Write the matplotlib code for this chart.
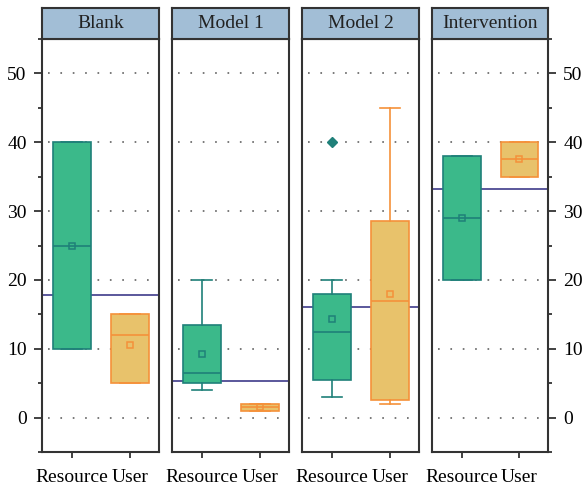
import matplotlib
matplotlib.use("Agg")
import matplotlib.pyplot as plt
from matplotlib.ticker import MultipleLocator

plt.rcParams['font.family'] = ['Liberation Serif', 'DejaVu Serif']

groups = ["Blank", "Model 1", "Model 2", "Intervention"]
categories = ["Resource", "User"]

# five-number summaries per group: [Resource, User]
whislo = [[10, 5], [4, 1], [3, 2], [20, 35]]
q1 = [[10, 5], [5, 1], [5.5, 2.5], [20, 35]]
med = [[25, 12], [6.5, 1.5], [12.5, 17], [29, 37.5]]
q3 = [[40, 15], [13.5, 2], [18, 28.5], [38, 40]]
whishi = [[40, 15], [20, 2], [20, 45], [38, 40]]
means = [[25, 10.6], [9.2, 1.5], [14.3, 18], [29, 37.5]]
outliers = [[[], []], [[], []], [[40], []], [[], []]]

# overall reference level per group
ref_level = [17.8, 5.35, 16.1, 33.2]

W, H = 582, 487
fig = plt.figure(figsize=(W / 100, H / 100), dpi=100)

panel_x = [(42, 159), (172, 289), (302, 419), (432, 548)]
y_top, y_bot, strip_top = 39, 452, 8

fills = ["#3BB98A", "#E8C26B"]
edges = ["#1F8079", "#F5913A"]
frame = "#333333"
fs = 14

for g, name in enumerate(groups):
    x0, x1 = panel_x[g]
    ax = fig.add_axes([x0 / W, 1 - y_bot / H, (x1 - x0) / W, (y_bot - y_top) / H])
    ax.set_xlim(0.48, 2.5)
    ax.set_ylim(-5, 55)

    for yv in range(0, 51, 10):
        ax.plot([0.58, 2.45], [yv, yv], color="#555555", lw=1.1,
                linestyle=(0, (1.1, 7.0)), zorder=0)

    ax.axhline(ref_level[g], color="#2E2A80", lw=1.1, zorder=1)

    for c in range(2):
        stats = [dict(whislo=whislo[g][c], q1=q1[g][c], med=med[g][c],
                      q3=q3[g][c], whishi=whishi[g][c], mean=means[g][c],
                      fliers=outliers[g][c])]
        ax.bxp(stats, positions=[c + 1], widths=0.65, patch_artist=True,
               showmeans=True, showfliers=True, capwidths=0.34,
               boxprops=dict(facecolor=fills[c], edgecolor=edges[c], lw=1.2),
               medianprops=dict(color=edges[c], lw=1.2),
               whiskerprops=dict(color=edges[c], lw=1.2),
               capprops=dict(color=edges[c], lw=1.2),
               meanprops=dict(marker="s", markerfacecolor="none",
                              markeredgecolor=edges[c], markersize=5,
                              markeredgewidth=1.1),
               flierprops=dict(marker="D", markerfacecolor=edges[c],
                               markeredgecolor=edges[c], markersize=5),
               manage_ticks=False, zorder=2)

    ax.set_xticks([1, 2])
    ax.set_xticklabels(categories, fontsize=fs)
    ax.tick_params(axis="x", length=4.5, width=1.3, color=frame, pad=8)

    ax.yaxis.set_major_locator(MultipleLocator(10))
    ax.yaxis.set_minor_locator(MultipleLocator(5))
    if g == 0 or g == len(groups) - 1:
        if g == len(groups) - 1:
            ax.yaxis.tick_right()
        ax.tick_params(axis="y", which="major", length=5.5, width=1.3,
                       color=frame, labelsize=fs, pad=5.5)
        ax.tick_params(axis="y", which="minor", length=3, width=1.3, color=frame)
    else:
        ax.tick_params(axis="y", which="both", left=False, labelleft=False)

    for s in ax.spines.values():
        s.set_color(frame)
        s.set_linewidth(1.5)

    # header strip
    sax = fig.add_axes([x0 / W, 1 - y_top / H, (x1 - x0) / W, (y_top - strip_top) / H])
    sax.set_facecolor("#A2BED6")
    sax.set_xticks([])
    sax.set_yticks([])
    for s in sax.spines.values():
        s.set_color(frame)
        s.set_linewidth(1.5)
    sax.text(0.5, 0.5, name, ha="center", va="center", fontsize=fs,
             color="#222222", transform=sax.transAxes)

fig.savefig("out.png", dpi=100)
